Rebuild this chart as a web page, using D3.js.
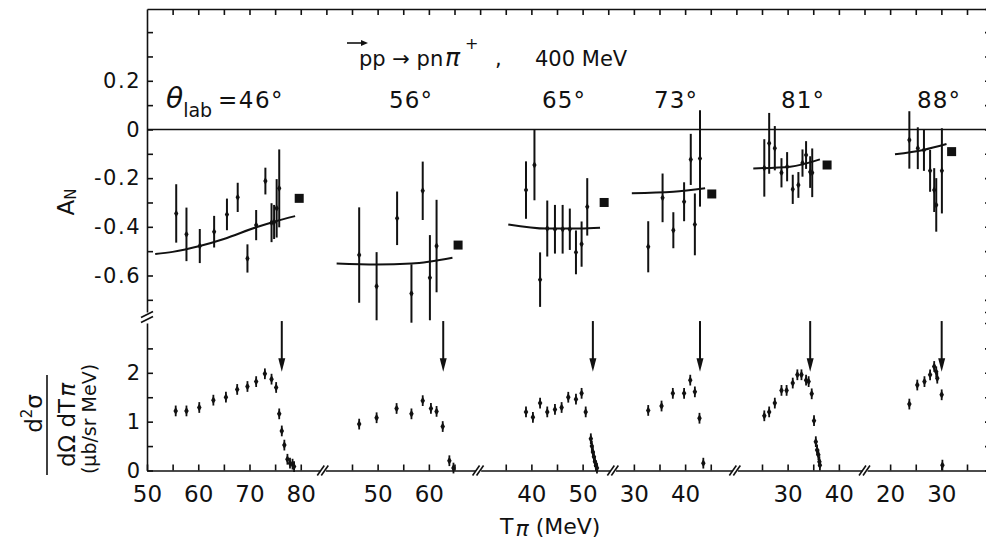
<!DOCTYPE html>
<html>
<head>
<meta charset="utf-8">
<script src="https://cdn.jsdelivr.net/npm/d3@7"></script>
<style>
body { margin: 0; background: #fff; }
svg { display: block; font-family: "DejaVu Sans", sans-serif; }
</style>
</head>
<body>
<script>
// lab angles, one panel each
var angles = ["46°", "56°", "65°", "73°", "81°", "88°"];

// A_N points: [T_pi (MeV), A_N, error]
var an46 = [[55.7,-0.345,0.12],[57.7,-0.431,0.11],[60.3,-0.479,0.07],[63.1,-0.42,0.065],[65.6,-0.349,0.065],
  [67.7,-0.279,0.06],[69.6,-0.53,0.058],[71.3,-0.393,0.062],[73.1,-0.212,0.055],[74.3,-0.383,0.08],
  [74.8,-0.38,0.07],[75.3,-0.324,0.12],[75.8,-0.242,0.16]];
var an56 = [[46.4,-0.516,0.196],[49.8,-0.644,0.14],[53.8,-0.365,0.11],[56.6,-0.674,0.12],[58.8,-0.252,0.12],
  [60.2,-0.609,0.175],[61.5,-0.479,0.19]];
var an65 = [[38.95,-0.249,0.118],[40.6,-0.146,0.145],[41.7,-0.617,0.112],[43.1,-0.407,0.115],[44.6,-0.41,0.1],
  [46.1,-0.41,0.1],[47.5,-0.41,0.085],[48.7,-0.505,0.09],[49.8,-0.471,0.093],[50.9,-0.318,0.118]];
var an73 = [[32.8,-0.482,0.105],[35.6,-0.281,0.1],[37.7,-0.414,0.074],[39.8,-0.297,0.08],[41.1,-0.123,0.105],
  [41.9,-0.39,0.127],[42.9,-0.119,0.198]];
var an81 = [[25.45,-0.158,0.118],[26.4,-0.057,0.125],[27.5,-0.077,0.091],[28.8,-0.178,0.06],[29.9,-0.153,0.06],
  [31.0,-0.246,0.06],[32.1,-0.228,0.053],[32.9,-0.138,0.056],[33.6,-0.105,0.057],[34.4,-0.175,0.065],
  [34.8,-0.178,0.1]];
var an88 = [[23.75,-0.043,0.118],[25.4,-0.077,0.086],[26.6,-0.084,0.086],[27.8,-0.17,0.086],[28.6,-0.249,0.09],
  [29.0,-0.31,0.11],[30.1,-0.17,0.175]];

// theory curves for A_N
var fit46 = [[51.6,-0.512],[55,-0.503],[60.3,-0.479],[65,-0.45],[71.3,-0.402],[75,-0.378],[78.9,-0.356]];
var fit56 = [[42.0,-0.551],[49.8,-0.555],[56.6,-0.551],[64.6,-0.527]];
var fit65 = [[35.5,-0.39],[43.0,-0.407],[49.5,-0.407],[53.4,-0.404]];
var fit73 = [[29.6,-0.262],[37.7,-0.256],[43.9,-0.242]];
var fit81 = [[23.3,-0.16],[30.5,-0.153],[36.3,-0.123]];
var fit88 = [[20.95,-0.102],[26.5,-0.084],[31.0,-0.06]];

// filled squares (one per angle)
var sqT = [79.7, 65.7, 54.2, 45.2, 37.7, 32.0];
var sqA = [-0.283, -0.475, -0.30, -0.265, -0.146, -0.091];

// d2sigma / dOmega dT points: [T_pi, value]
var cs46 = [[55.6,1.22],[57.7,1.22],[60.2,1.29],[62.95,1.44],[65.4,1.50],[67.6,1.66],[69.6,1.72],[71.3,1.82],
  [73.0,1.98],[74.3,1.87],[75.2,1.70],[75.8,1.16],[76.3,0.81],[76.8,0.52],[77.4,0.23],[77.9,0.15],[78.4,0.13],[78.7,0.08]];
var cs56 = [[46.4,0.95],[49.8,1.08],[53.7,1.27],[56.6,1.16],[58.8,1.43],[60.4,1.27],[61.5,1.21],[62.7,0.90],
  [64.0,0.2],[64.8,0.05]];
var cs65 = [[38.95,1.20],[40.3,1.09],[41.7,1.38],[43.1,1.20],[44.6,1.25],[45.9,1.29],[47.2,1.50],[48.7,1.46],
  [49.8,1.58],[50.6,1.20],[51.6,0.65],[51.8,0.5],[52.0,0.38],[52.2,0.28],[52.4,0.18],[52.6,0.1],[52.8,0.05]];
var cs73 = [[32.8,1.23],[35.4,1.32],[37.6,1.58],[39.8,1.58],[41.0,1.85],[41.9,1.61],[42.8,1.07],[43.55,0.15]];
var cs81 = [[25.45,1.12],[26.4,1.20],[27.5,1.38],[28.8,1.64],[29.8,1.64],[31.0,1.79],[31.9,1.96],[32.7,1.96],
  [33.6,1.85],[34.1,1.82],[34.7,1.57],[35.15,1.02],[35.5,0.59],[35.75,0.42],[36.0,0.32],[36.2,0.18],[36.3,0.11]];
var cs88 = [[23.75,1.36],[25.3,1.75],[26.7,1.82],[27.8,1.96],[28.6,2.13],[29.0,2.02],[29.2,1.89],[30.06,1.55],[30.2,0.11]];

// kinematic end points (arrows)
var edgeT = [76.3, 62.8, 52.0, 42.9, 34.4, 30.06];

// x-axis pieces: each panel shifted on one common MeV scale
var panelShift = [-50, -5, 35, 65, 95, 125];
var panelDomain = [[50, 83.8], [39.8, 69.1], [30.1, 55.4], [26.4, 49.2], [20.2, 44.5], [15.5, 39]];
var panelTicks = [[50,55,60,65,70,75,80], [45,50,55,60,65], [35,40,45,50], [30,35,40,45], [25,30,35,40], [20,25,30,35]];

var anData = [an46, an56, an65, an73, an81, an88];
var fitData = [fit46, fit56, fit65, fit73, fit81, fit88];
var csData = [cs46, cs56, cs65, cs73, cs81, cs88];

d3.select("body").append("svg")
  .attr("width", 986)
  .attr("height", 544);

var svg = d3.select("svg"),
  margin = {top: 9, left: 147, bottom: 73.5},
  width = +svg.attr("width"),
  height = +svg.attr("height");

var ink = "#111";

var xg = d3.scaleLinear().domain([0, 164]).range([margin.left, 987.5]);
var yTop = d3.scaleLinear().domain([-0.75, 0.495]).range([312, margin.top]);
var yBot = d3.scaleLinear().domain([0, 3.02]).range([height - margin.bottom, 323]);

var panels = angles.map(function(a, i) {
  var dom = panelDomain[i];
  return {
    angle: a,
    x: d3.scaleLinear().domain(dom).range([xg(dom[0] + panelShift[i]), xg(dom[1] + panelShift[i])]),
    ticks: panelTicks[i],
    an: anData[i], fit: fitData[i], cs: csData[i],
    sq: [sqT[i], sqA[i]], edge: edgeT[i]
  };
});

function styleAxis(g, size) {
  g.attr("font-family", "DejaVu Sans, sans-serif").attr("font-size", size);
  g.selectAll("path, line").attr("stroke", ink).attr("stroke-width", 1.6);
  g.selectAll("text").attr("fill", ink);
}

// top frame with ticks every 5 MeV
svg.append("g")
  .attr("transform", "translate(0," + margin.top + ")")
  .call(d3.axisBottom(xg).tickValues(d3.range(5, 165, 5)).tickSize(6).tickSizeOuter(0).tickFormat(""))
  .call(styleAxis, 10);

// left axes
var fmtA = function(d) {
  var k = Math.round(d * 10);
  if (k % 2 !== 0 || k > 2) return "";
  return k === 0 ? "0" : d.toFixed(1);
};
svg.append("g")
  .attr("transform", "translate(" + margin.left + ",0)")
  .call(d3.axisLeft(yTop).tickValues(d3.range(-7, 5).map(function(k) { return k / 10; }))
    .tickSizeInner(-6).tickSizeOuter(0).tickPadding(6).tickFormat(fmtA))
  .call(styleAxis, 21)
  .selectAll("text").attr("letter-spacing", 1.5);

svg.append("g")
  .attr("transform", "translate(" + margin.left + ",0)")
  .call(d3.axisLeft(yBot).tickValues([0, 0.5, 1, 1.5, 2, 2.5])
    .tickSizeInner(-6).tickSizeOuter(0).tickPadding(7)
    .tickFormat(function(d) { return d % 1 === 0 ? d : ""; }))
  .call(styleAxis, 21);

// right axis (just off the page edge)
svg.append("g").attr("transform", "translate(991,0)")
  .call(d3.axisLeft(yTop).tickValues(d3.range(-7, 5).map(function(k) { return k / 10; })).tickSize(6).tickFormat(""))
  .call(styleAxis, 10);
svg.append("g").attr("transform", "translate(991,0)")
  .call(d3.axisLeft(yBot).tickValues([0.5, 1, 1.5, 2, 2.5]).tickSize(6).tickFormat(""))
  .call(styleAxis, 10);

// break mark on the left axis
[-2.5, 2.5].forEach(function(o) {
  svg.append("line")
    .attr("x1", margin.left - 6).attr("y1", 320 + o)
    .attr("x2", margin.left + 6).attr("y2", 314 + o)
    .attr("stroke", ink).attr("stroke-width", 1.6);
});

// zero line
svg.append("line")
  .attr("x1", margin.left).attr("x2", width)
  .attr("y1", yTop(0)).attr("y2", yTop(0))
  .attr("stroke", ink).attr("stroke-width", 1.6);

var yAxisB = height - margin.bottom;

panels.forEach(function(p, i) {
  var x = p.x;

  // bottom axis piece
  svg.append("g")
    .attr("transform", "translate(0," + yAxisB + ")")
    .call(d3.axisBottom(x).tickValues(p.ticks).tickSizeInner(-6).tickSizeOuter(0).tickPadding(15)
      .tickFormat(function(d) { return d % 10 === 0 ? d : ""; }))
    .call(styleAxis, 23);

  // break marks between pieces
  if (i < panels.length - 1) {
    var bx = (x.range()[1] + panels[i + 1].x.range()[0]) / 2;
    [-2, 2].forEach(function(o) {
      svg.append("line")
        .attr("x1", bx + o - 3.5).attr("y1", yAxisB + 5)
        .attr("x2", bx + o + 3.5).attr("y2", yAxisB - 5)
        .attr("stroke", ink).attr("stroke-width", 1.6);
    });
  }

  // theory curve
  svg.append("path")
    .datum(p.fit)
    .attr("fill", "none").attr("stroke", ink).attr("stroke-width", 2)
    .attr("d", d3.line()
      .x(function(d) { return x(d[0]); })
      .y(function(d) { return yTop(d[1]); })
      .curve(d3.curveMonotoneX));

  // A_N error bars
  var gA = svg.append("g");
  gA.selectAll("line")
    .data(p.an)
    .enter().append("line")
    .attr("x1", function(d) { return x(d[0]); })
    .attr("x2", function(d) { return x(d[0]); })
    .attr("y1", function(d) { return yTop(d[1] - d[2]); })
    .attr("y2", function(d) { return yTop(d[1] + d[2]); })
    .attr("stroke", ink).attr("stroke-width", 2);
  gA.selectAll("path")
    .data(p.an)
    .enter().append("path")
    .attr("d", d3.symbol(d3.symbolDiamond, 16))
    .attr("transform", function(d) { return "translate(" + x(d[0]) + "," + yTop(d[1]) + ")"; })
    .attr("fill", ink);

  // square
  svg.append("rect")
    .attr("x", x(p.sq[0]) - 4.5).attr("y", yTop(p.sq[1]) - 4.5)
    .attr("width", 9).attr("height", 9)
    .attr("fill", ink);

  // cross section points
  var gC = svg.append("g");
  gC.selectAll("line")
    .data(p.cs)
    .enter().append("line")
    .attr("x1", function(d) { return x(d[0]); })
    .attr("x2", function(d) { return x(d[0]); })
    .attr("y1", function(d) { return yBot(d[1] - 0.11); })
    .attr("y2", function(d) { return yBot(d[1] + 0.11); })
    .attr("stroke", ink).attr("stroke-width", 1.8);
  gC.selectAll("path")
    .data(p.cs)
    .enter().append("path")
    .attr("d", d3.symbol(d3.symbolDiamond, 18))
    .attr("transform", function(d) { return "translate(" + x(d[0]) + "," + yBot(d[1]) + ")"; })
    .attr("fill", ink);

  // end-point arrow
  var ax = x(p.edge);
  svg.append("line")
    .attr("x1", ax).attr("x2", ax)
    .attr("y1", yBot(3.06)).attr("y2", yBot(2.2))
    .attr("stroke", ink).attr("stroke-width", 2);
  svg.append("path")
    .attr("d", "M" + (ax - 3.5) + "," + yBot(2.3) + "L" + (ax + 3.5) + "," + yBot(2.3) + "L" + ax + "," + yBot(2.02) + "Z")
    .attr("fill", ink);
});

// title, built from separate pieces
function note(x, y, size, str) {
  return svg.append("text").attr("x", x).attr("y", y).attr("font-size", size).attr("fill", ink).text(str);
}
note(359, 66, 21, "pp \u2192 pn");
note(445, 66, 25, "\u03c0").attr("font-style", "italic");
note(465, 49, 16, "+");
note(495, 66, 21, ",");
note(535, 66, 21, "400 MeV");
svg.append("line").attr("x1", 347).attr("x2", 364).attr("y1", 43).attr("y2", 43)
  .attr("stroke", ink).attr("stroke-width", 1.6);
svg.append("path").attr("d", "M361,40L368,43L361,46Z").attr("fill", ink);

// angle labels
var lab = svg.append("text").attr("y", 108).attr("fill", ink).attr("font-size", 23);
lab.append("tspan").attr("x", 166).attr("font-size", 28).attr("font-style", "italic").text("\u03b8");
lab.append("tspan").attr("dy", 9).attr("font-size", 19).text("lab");
lab.append("tspan").attr("x", 218).attr("dy", -9).attr("letter-spacing", 1.5).text("=" + angles[0]);

var angleX = [null, 411, 564, 676, 803, 939];
angles.slice(1).forEach(function(a, i) {
  svg.append("text")
    .attr("x", angleX[i + 1]).attr("y", 108)
    .attr("text-anchor", "middle").attr("font-size", 23).attr("letter-spacing", 1)
    .attr("fill", ink)
    .text(a);
});

// y labels
var an = svg.append("text")
  .attr("transform", "translate(74,202) rotate(-90)")
  .attr("text-anchor", "middle").attr("font-size", 23).attr("fill", ink);
an.append("tspan").text("A");
an.append("tspan").attr("font-size", 15).attr("dy", 2).text("N");

var frac = svg.append("g").attr("transform", "translate(0,425) rotate(-90)").attr("fill", ink);
var num = frac.append("text").attr("x", 11.5).attr("y", 42).attr("text-anchor", "middle").attr("font-size", 23);
num.append("tspan").text("d");
num.append("tspan").attr("font-size", 15).attr("dy", -10).text("2");
num.append("tspan").attr("dy", 10).text("\u03c3");
frac.append("line").attr("x1", -50).attr("x2", 50).attr("y1", 47).attr("y2", 47)
  .attr("stroke", ink).attr("stroke-width", 1.6);
var den = frac.append("text").attr("x", 0).attr("y", 75).attr("text-anchor", "middle").attr("font-size", 23);
den.append("tspan").text("d\u03a9 dT");
den.append("tspan").attr("font-style", "italic").attr("dx", 2).text("\u03c0");
frac.append("text").attr("x", 6).attr("y", 96).attr("text-anchor", "middle").attr("font-size", 19)
  .text("(\u03bcb/sr MeV)");

// x label
var xl = svg.append("text").attr("x", 500).attr("y", 534).attr("font-size", 22).attr("fill", ink);
xl.append("tspan").text("T");
xl.append("tspan").attr("font-style", "italic").attr("dx", 2).attr("dy", 2).text("\u03c0");
xl.append("tspan").attr("dy", -2).text(" (MeV)");
</script>
</body>
</html>
